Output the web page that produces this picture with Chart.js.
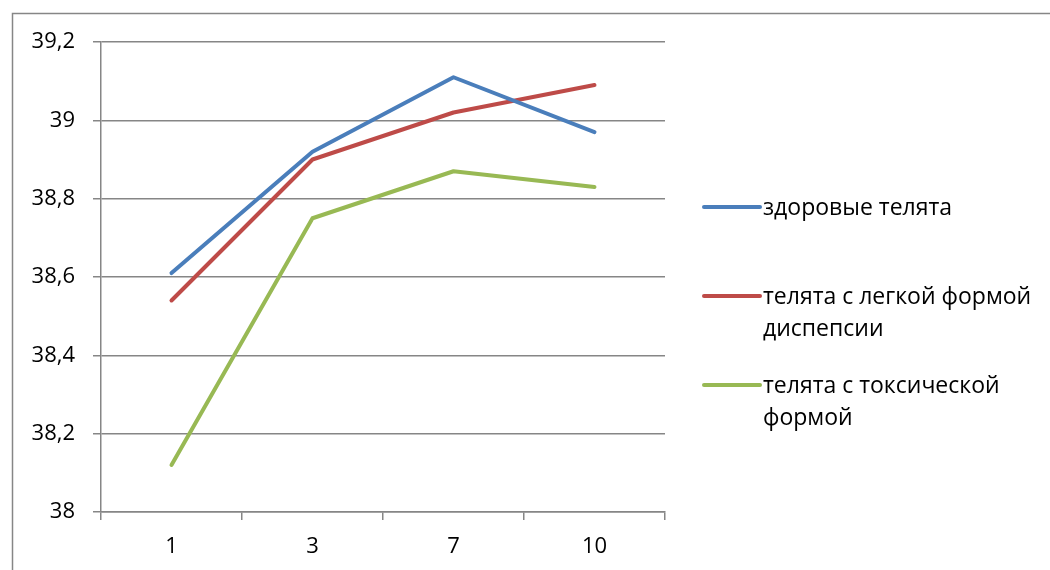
<!DOCTYPE html>
<html>
<head>
<meta charset="utf-8">
<script src="https://cdn.jsdelivr.net/npm/chart.js@4.4.1/dist/chart.umd.min.js"></script>
<style>
  html, body { margin: 0; padding: 0; background: #fff; }
  #wrap { width: 1050px; height: 570px; position: relative; }
</style>
</head>
<body>
<div id="wrap"><canvas id="tempChart" width="1050" height="570"></canvas></div>
<script>
// days of observation
var days = ['1', '3', '7', '10'];

// body temperature, °C
var healthy = [38.61, 38.92, 39.11, 38.97];
var mildDyspepsia = [38.54, 38.90, 39.02, 39.09];
var toxicForm = [38.12, 38.75, 38.87, 38.83];

var seriesNames = ['здоровые телята', 'телята с легкой формой диспепсии', 'телята с токсической формой'];
var legendLines = [
  ['здоровые телята'],
  ['телята с легкой формой', 'диспепсии'],
  ['телята с токсической', 'формой']
];

var yMin = 38, yMax = 39.2, yStep = 0.2;

var FONT = '"Open Sans", "Noto Sans", sans-serif';
var AXIS_GRAY = '#868686';

/* outer frame of the chart object */
var framePlugin = {
  id: 'frame',
  beforeDraw: function (chart) {
    var c = chart.ctx;
    c.save();
    c.strokeStyle = AXIS_GRAY;
    c.lineWidth = 1.5;
    c.beginPath();
    c.moveTo(12.5, 600);
    c.lineTo(12.5, 13.5);
    c.lineTo(1100, 13.5);
    c.stroke();
    c.restore();
  }
};

/* legend on the right, with wrapped labels */
var sideLegend = {
  id: 'sideLegend',
  afterDraw: function (chart) {
    var c = chart.ctx;
    var x0 = 704, x1 = 760, tx = 763;
    var firstY = 208, gap = 89, lineH = 32;
    c.save();
    c.font = '23px ' + FONT;
    c.textBaseline = 'middle';
    c.fillStyle = '#000';
    chart.data.datasets.forEach(function (ds, i) {
      var y = firstY + i * gap;
      c.strokeStyle = ds.borderColor;
      c.lineWidth = 4;
      c.lineCap = 'round';
      c.beginPath();
      c.moveTo(x0, y - 1);
      c.lineTo(x1, y - 1);
      c.stroke();
      legendLines[i].forEach(function (t, k) {
        c.fillText(t, tx, y + k * lineH);
      });
    });
    c.restore();
  }
};

function fmt(v) {
  return String(Math.round(v * 10) / 10).replace('.', ',');
}

new Chart(document.getElementById('tempChart'), {
  type: 'line',
  data: {
    labels: days,
    datasets: [
      { label: seriesNames[0], data: healthy, borderColor: '#4a7ebb' },
      { label: seriesNames[1], data: mildDyspepsia, borderColor: '#be4b48' },
      { label: seriesNames[2], data: toxicForm, borderColor: '#98b954' }
    ].map(function (d) {
      d.borderWidth = 4;
      d.pointRadius = 0;
      d.tension = 0;
      d.fill = false;
      d.borderCapStyle = 'round';
      d.borderJoinStyle = 'round';
      return d;
    })
  },
  options: {
    responsive: false,
    animation: false,
    devicePixelRatio: 1,
    layout: { padding: { left: 0, right: 385, top: 42, bottom: 0 } },
    plugins: {
      legend: { display: false },
      tooltip: { enabled: false }
    },
    scales: {
      x: {
        offset: true,
        grid: {
          offset: true,
          drawOnChartArea: false,
          drawTicks: true,
          tickLength: 8,
          color: AXIS_GRAY,
          lineWidth: 1.5
        },
        border: { display: true, color: AXIS_GRAY, width: 1.5 },
        ticks: {
          color: '#000',
          padding: 14,
          maxRotation: 0,
          font: { family: FONT, size: 22 }
        },
        afterFit: function (scale) { scale.height = 58; }
      },
      y: {
        min: yMin,
        max: yMax,
        grid: {
          color: AXIS_GRAY,
          lineWidth: 1.5,
          drawTicks: true,
          tickLength: 8
        },
        border: { display: true, color: AXIS_GRAY, width: 1.5 },
        ticks: {
          stepSize: yStep,
          color: '#000',
          padding: 18,
          font: { family: FONT, size: 22 },
          callback: function (v) { return fmt(v); }
        },
        afterFit: function (scale) { scale.width = 101; }
      }
    }
  },
  plugins: [framePlugin, sideLegend]
});
</script>
</body>
</html>
